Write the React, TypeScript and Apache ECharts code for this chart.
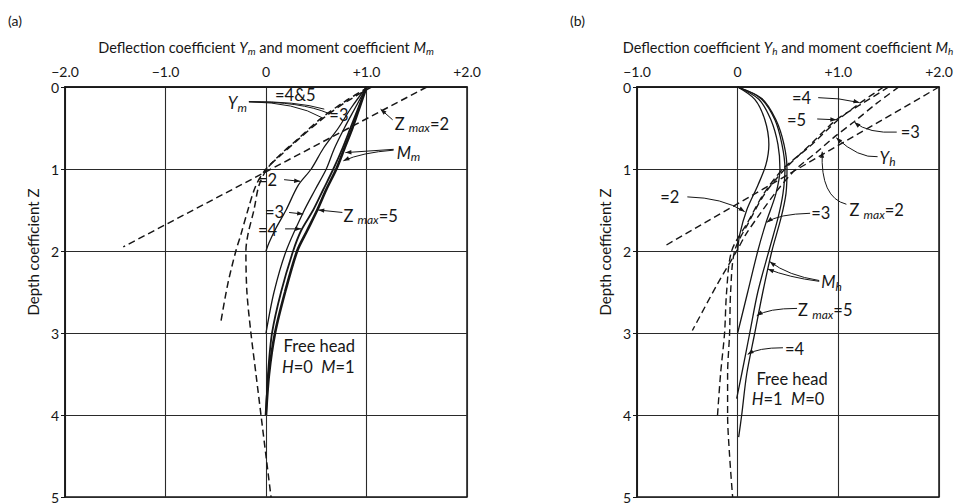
import React, { useEffect, useRef } from "react";
import * as echarts from "echarts";

type P = [number, number];

const FONT = "Lato, 'Open Sans', sans-serif";
const INK = "#161616";

// axis ranges / ticks
const depthRange: P = [0, 5];
const xRangeA: P = [-2, 2];
const xRangeB: P = [-1, 2];

// ---------- Panel (a): moment at head (H=0, M=1) ----------
// moment coefficient Mm (solid) for Zmax = 2,3,4,5  [value, depth]
const mmZ2: P[] = [[1, 0], [0.85, 0.25], [0.72, 0.5], [0.57, 0.75], [0.45, 1.0], [0.32, 1.2], [0.2, 1.5], [0.1, 1.72], [0.03, 1.9], [0, 2.0]];
const mmZ3: P[] = [[1, 0], [0.89, 0.25], [0.78, 0.5], [0.68, 0.75], [0.6, 1.0], [0.49, 1.25], [0.37, 1.53], [0.2, 2.0], [0.08, 2.5], [0, 3.0]];
const mmZ4: P[] = [[1, 0], [0.92, 0.25], [0.84, 0.5], [0.76, 0.75], [0.67, 1.0], [0.57, 1.25], [0.47, 1.5], [0.35, 1.75], [0.27, 2.0], [0.15, 2.5], [0.06, 3.0], [0.02, 3.5], [0, 4.0]];
const mmZ5: P[] = [[1, 0], [0.93, 0.25], [0.86, 0.5], [0.78, 0.75], [0.7, 1.0], [0.6, 1.25], [0.51, 1.5], [0.41, 1.75], [0.31, 2.0], [0.19, 2.5], [0.09, 3.0], [0.03, 3.5], [0, 4.0]];
// deflection coefficient Ym (dashed)
const ymZ2: P[] = [[1.6, 0], [-1.42, 1.95]];
const ymZ3: P[] = [[1.05, 0], [0.8, 0.18], [0.57, 0.38], [0.33, 0.63], [0.13, 0.85], [0, 1.0], [-0.1, 1.2], [-0.18, 1.5], [-0.25, 1.8], [-0.3, 2.0], [-0.38, 2.4], [-0.45, 2.87]];
const ymZ45: P[] = [[1.02, 0], [0.78, 0.18], [0.55, 0.38], [0.32, 0.63], [0.12, 0.85], [0.01, 1.0], [-0.07, 1.2], [-0.12, 1.5], [-0.18, 1.8], [-0.2, 2.0], [-0.19, 2.5], [-0.15, 3.0], [-0.1, 3.5], [-0.05, 4.0], [0, 4.5], [0.05, 5.0]];

// ---------- Panel (b): shear at head (H=1, M=0) ----------
const mhZ2: P[] = [[0, 0], [0.17, 0.15], [0.27, 0.4], [0.31, 0.7], [0.28, 0.95], [0.2, 1.2], [0.09, 1.5], [0.02, 1.8], [0, 2.0]];
const mhZ3: P[] = [[0, 0], [0.21, 0.15], [0.33, 0.4], [0.4, 0.7], [0.42, 1.0], [0.38, 1.3], [0.28, 1.66], [0.2, 2.0], [0.1, 2.5], [0, 3.0]];
const mhZ4: P[] = [[0, 0], [0.23, 0.14], [0.37, 0.4], [0.44, 0.7], [0.47, 1.0], [0.45, 1.3], [0.4, 1.6], [0.31, 2.0], [0.2, 2.5], [0.12, 3.0], [0.04, 3.5], [-0.01, 3.8]];
const mhZ5: P[] = [[0, 0], [0.24, 0.14], [0.38, 0.4], [0.46, 0.7], [0.49, 1.0], [0.48, 1.3], [0.43, 1.6], [0.34, 2.0], [0.25, 2.5], [0.17, 3.0], [0.09, 3.5], [0.04, 4.0], [0.01, 4.27]];
const yhZ2: P[] = [[2.0, 0], [-0.74, 1.95]];
const yhZ3: P[] = [[1.6, 0], [1.38, 0.2], [1.16, 0.42], [0.95, 0.62], [0.78, 0.8], [0.58, 1.0], [0.4, 1.25], [0.22, 1.55], [0.08, 1.8], [0, 1.98], [-0.2, 2.4], [-0.45, 2.97]];
const yhZ4: P[] = [[1.45, 0], [1.21, 0.2], [0.98, 0.42], [0.72, 0.72], [0.45, 1.0], [0.26, 1.3], [0.1, 1.65], [-0.06, 2.0], [-0.11, 2.5], [-0.13, 3.0], [-0.17, 3.5], [-0.2, 4.0]];
const yhZ5: P[] = [[1.5, 0], [1.24, 0.2], [0.98, 0.4], [0.74, 0.68], [0.47, 1.0], [0.27, 1.3], [0.11, 1.65], [-0.03, 2.0], [-0.07, 2.5], [-0.08, 3.0], [-0.1, 3.5], [-0.1, 4.0], [-0.08, 4.5], [-0.05, 5.0]];

// ---------- annotations (data coordinates of each grid) ----------
type Arrow = { from: P; to: P; ctrl?: P; head?: boolean };
type Note = { g: number; text: string; at: P; align?: "left" | "center"; arrows?: Arrow[] };

const notes: Note[] = [
  { g: 0, text: "{b|=4&5}", at: [0.09, 0.1] },
  {
    g: 0, text: "{i|Y}{s|m}", at: [-0.38, 0.2],
    arrows: [
      { from: [-0.17, 0.18], to: [0.58, 0.27], ctrl: [0.3, 0.17] },
      { from: [-0.17, 0.18], to: [0.62, 0.32], ctrl: [0.35, 0.18] },
      { from: [-0.17, 0.18], to: [0.55, 0.37], ctrl: [0.3, 0.19] },
    ],
  },
  { g: 0, text: "{b|=3}", at: [0.63, 0.34] },
  { g: 0, text: "{b|Z }{s|max}{b|=2}", at: [1.28, 0.45], arrows: [{ from: [1.26, 0.4], to: [1.14, 0.27], head: true }] },
  {
    g: 0, text: "{i|M}{s|m}", at: [1.3, 0.8],
    arrows: [
      { from: [1.27, 0.76], to: [0.79, 0.8], head: true },
      { from: [1.27, 0.77], to: [0.77, 0.9], ctrl: [0.95, 0.8], head: true },
    ],
  },
  { g: 0, text: "{b|=2}", at: [-0.08, 1.13], arrows: [{ from: [0.18, 1.13], to: [0.34, 1.15], head: true }] },
  { g: 0, text: "{b|=3}", at: [-0.01, 1.53], arrows: [{ from: [0.23, 1.53], to: [0.37, 1.55], head: true }] },
  { g: 0, text: "{b|=4}", at: [-0.08, 1.74], arrows: [{ from: [0.19, 1.73], to: [0.35, 1.73], head: true }] },
  { g: 0, text: "{b|Z }{s|max}{b|=5}", at: [0.77, 1.57], arrows: [{ from: [0.76, 1.53], to: [0.52, 1.5], head: true }] },
  { g: 0, text: "{b|Free head}", at: [0.53, 3.16], align: "center" },
  { g: 0, text: "{i|H}{b|=0  }{i|M}{b|=1}", at: [0.52, 3.42], align: "center" },

  { g: 1, text: "{b|=4}", at: [0.54, 0.13], arrows: [{ from: [0.8, 0.13], to: [1.21, 0.19], ctrl: [1.0, 0.13], head: true }] },
  { g: 1, text: "{b|=5}", at: [0.49, 0.4], arrows: [{ from: [0.79, 0.39], to: [0.98, 0.4], head: true }] },
  { g: 1, text: "{b|=3}", at: [1.62, 0.55], arrows: [{ from: [1.58, 0.55], to: [1.16, 0.43], ctrl: [1.3, 0.57], head: true }] },
  { g: 1, text: "{i|Y}{s|h}", at: [1.41, 0.86], arrows: [{ from: [1.39, 0.85], to: [0.98, 0.62], ctrl: [1.2, 0.87], head: true }] },
  { g: 1, text: "{b|Z }{s|max}{b|=2}", at: [1.11, 1.5], arrows: [{ from: [1.08, 1.43], to: [0.84, 0.79], ctrl: [0.82, 1.35], head: true }] },
  { g: 1, text: "{b|=2}", at: [-0.77, 1.34], arrows: [{ from: [-0.5, 1.34], to: [0.07, 1.52], ctrl: [-0.15, 1.35], head: true }] },
  { g: 1, text: "{b|=3}", at: [0.73, 1.54], arrows: [{ from: [0.72, 1.54], to: [0.29, 1.65], ctrl: [0.4, 1.55], head: true }] },
  {
    g: 1, text: "{i|M}{s|h}", at: [0.83, 2.38],
    arrows: [
      { from: [0.81, 2.36], to: [0.32, 2.13], ctrl: [0.5, 2.3], head: true },
      { from: [0.81, 2.37], to: [0.3, 2.22], ctrl: [0.5, 2.32], head: true },
    ],
  },
  { g: 1, text: "{b|Z }{s|max}{b|=5}", at: [0.6, 2.72], arrows: [{ from: [0.59, 2.7], to: [0.19, 2.79], ctrl: [0.3, 2.7], head: true }] },
  { g: 1, text: "{b|=4}", at: [0.47, 3.2], arrows: [{ from: [0.45, 3.18], to: [0.1, 3.26], ctrl: [0.2, 3.18], head: true }] },
  { g: 1, text: "{b|Free head}", at: [0.54, 3.56], align: "center" },
  { g: 1, text: "{i|H}{b|=1  }{i|M}{b|=0}", at: [0.5, 3.8], align: "center" },
];

const richG = {
  b: { fontSize: 16.5, fontFamily: FONT, lineHeight: 20, fill: INK },
  i: { fontSize: 16.5, fontFamily: FONT, fontStyle: "italic", lineHeight: 20, fill: INK },
  s: { fontSize: 12, fontFamily: FONT, fontStyle: "italic", lineHeight: 9, verticalAlign: "bottom", fill: INK },
};
const richA = {
  b: { fontSize: 14.5, fontFamily: FONT, lineHeight: 17, color: INK },
  i: { fontSize: 14.5, fontFamily: FONT, fontStyle: "italic", lineHeight: 17, color: INK },
  s: { fontSize: 10, fontFamily: FONT, fontStyle: "italic", lineHeight: 7, verticalAlign: "bottom", color: INK },
};

const fmtX = (v: number) => (v === 0 ? "0" : (v > 0 ? "+" : "\u2212") + Math.abs(v).toFixed(1));

function line(data: P[], g: number, dashed: boolean, width = 1.3) {
  return {
    type: "line",
    xAxisIndex: g,
    yAxisIndex: g,
    data,
    symbol: "none",
    showSymbol: false,
    smooth: data.length > 2 ? 0.3 : false,
    silent: true,
    z: 5,
    lineStyle: { color: INK, width, type: dashed ? [7, 4] : "solid" },
  };
}

function xAxis(g: number, range: P, name: string) {
  return {
    gridIndex: g,
    type: "value",
    position: "top",
    min: range[0],
    max: range[1],
    interval: 1,
    axisLine: { show: true, onZero: false, lineStyle: { color: INK, width: 1.5 } },
    axisTick: { show: false },
    splitLine: { show: true, lineStyle: { color: "#2a2a2a", width: 1.1 } },
    axisLabel: { formatter: fmtX, fontSize: 14, fontFamily: FONT, color: INK, margin: 9, lineHeight: 14 },
    name,
    nameLocation: "middle",
    nameGap: 31,
    nameTextStyle: { rich: richA, fontSize: 14.5, fontFamily: FONT, color: INK },
  };
}

function yAxis(g: number) {
  return {
    gridIndex: g,
    type: "value",
    inverse: true,
    min: depthRange[0],
    max: depthRange[1],
    interval: 1,
    axisLine: { show: true, onZero: false, lineStyle: { color: INK, width: 1.5 } },
    axisTick: { show: true, length: 4, lineStyle: { color: INK } },
    splitLine: { show: true, lineStyle: { color: "#2a2a2a", width: 1.1 } },
    axisLabel: { fontSize: 14, fontFamily: FONT, color: INK, margin: 6, lineHeight: 12 },
  };
}

export default function App() {
  const ref = useRef<HTMLDivElement>(null);
  useEffect(() => {
    if (!ref.current) return;
    const chart = echarts.init(ref.current, null, { renderer: "svg" });
    const option: any = {
      animation: false,
      backgroundColor: "#ffffff",
      grid: [
        { left: 65, top: 87, width: 402, height: 411, show: true, borderColor: INK, borderWidth: 1.5, backgroundColor: "transparent" },
        { left: 637, top: 87, width: 302, height: 411, show: true, borderColor: INK, borderWidth: 1.5, backgroundColor: "transparent" },
      ],
      xAxis: [
        xAxis(0, xRangeA, "Deflection coefficient {i|Y}{s|m}{b| and moment coefficient }{i|M}{s|m}"),
        xAxis(1, xRangeB, "Deflection coefficient {i|Y}{s|h}{b| and moment coefficient }{i|M}{s|h}"),
      ],
      yAxis: [yAxis(0), yAxis(1)],
      series: [
        line(mmZ2, 0, false),
        line(mmZ3, 0, false),
        line(mmZ4, 0, false, 1.8),
        line(mmZ5, 0, false, 2.6),
        line(ymZ2, 0, true, 1.5),
        line(ymZ3, 0, true, 1.5),
        line(ymZ45, 0, true, 1.5),
        line(mhZ2, 1, false),
        line(mhZ3, 1, false),
        line(mhZ4, 1, false),
        line(mhZ5, 1, false),
        line(yhZ2, 1, true, 1.4),
        line(yhZ3, 1, true, 1.4),
        line(yhZ4, 1, true, 1.4),
        line(yhZ5, 1, true, 1.4),
      ],
    };
    chart.setOption(option);

    const toPx = (g: number, p: P) => chart.convertToPixel({ gridIndex: g } as any, p) as unknown as number[];
    const yName = (x: number) => ({
      type: "text",
      x,
      y: 252,
      rotation: Math.PI / 2,
      style: { text: "Depth coefficient Z", fontSize: 15, fontFamily: FONT, fill: INK, align: "center", verticalAlign: "middle" },
    });
    const els: any[] = [
      { type: "text", x: 8, y: 20, style: { text: "(a)", fontSize: 14, fontFamily: FONT, fill: INK, verticalAlign: "middle" } },
      { type: "text", x: 570, y: 20, style: { text: "(b)", fontSize: 14, fontFamily: FONT, fill: INK, verticalAlign: "middle" } },
      yName(33),
      yName(605),
    ];
    for (const n of notes) {
      const [tx, ty] = toPx(n.g, n.at);
      els.push({
        type: "text",
        x: tx,
        y: ty,
        z: 20,
        style: { text: n.text, rich: richG, align: n.align || "left", verticalAlign: "middle", fill: INK, fontSize: 16.5, fontFamily: FONT },
      });
      for (const a of n.arrows || []) {
        const [x1, y1] = toPx(n.g, a.from);
        const [x2, y2] = toPx(n.g, a.to);
        let cx = x1, cy = y1;
        if (a.ctrl) {
          const c = toPx(n.g, a.ctrl);
          cx = c[0];
          cy = c[1];
          els.push({ type: "bezierCurve", z: 20, shape: { x1, y1, x2, y2, cpx1: cx, cpy1: cy }, style: { stroke: INK, fill: null, lineWidth: 1 } });
        } else {
          els.push({ type: "line", z: 20, shape: { x1, y1, x2, y2 }, style: { stroke: INK, lineWidth: 1 } });
        }
        if (a.head) {
          let dx = x2 - cx, dy = y2 - cy;
          const len = Math.hypot(dx, dy) || 1;
          dx /= len;
          dy /= len;
          const L = 6, W = 2.2;
          els.push({
            type: "polygon",
            z: 21,
            shape: { points: [[x2, y2], [x2 - dx * L - dy * W, y2 - dy * L + dx * W], [x2 - dx * L + dy * W, y2 - dy * L - dx * W]] },
            style: { fill: INK },
          });
        }
      }
    }
    chart.setOption({ graphic: { elements: els } });
    return () => chart.dispose();
  }, []);
  return <div ref={ref} style={{ position: "fixed", left: 0, top: 0, width: 961, height: 504, background: "#fff" }} />;
}
